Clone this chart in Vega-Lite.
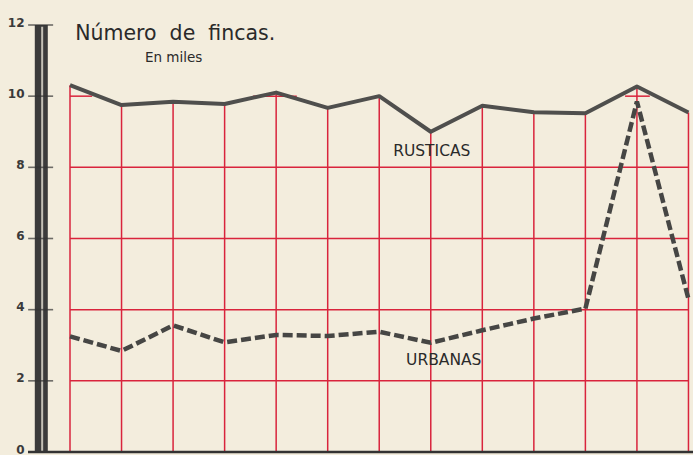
{
  "$schema": "https://vega.github.io/schema/vega-lite/v6.json",
  "width": 665,
  "height": 427,
  "autosize": {"type": "none"},
  "padding": {"left": 28, "top": 25, "right": 0, "bottom": 3},
  "background": "#f3eddd",
  "config": {"view": {"stroke": null}, "font": "DejaVu Sans"},
  "datasets": {
    "series": [
      {"k": 0, "rusticas": 10.31, "urbanas": 3.25},
      {"k": 1, "rusticas": 9.75, "urbanas": 2.84},
      {"k": 2, "rusticas": 9.84, "urbanas": 3.56},
      {"k": 3, "rusticas": 9.78, "urbanas": 3.08},
      {"k": 4, "rusticas": 10.1, "urbanas": 3.29},
      {"k": 5, "rusticas": 9.67, "urbanas": 3.26},
      {"k": 6, "rusticas": 10.0, "urbanas": 3.38},
      {"k": 7, "rusticas": 9.0, "urbanas": 3.07},
      {"k": 8, "rusticas": 9.73, "urbanas": 3.42},
      {"k": 9, "rusticas": 9.55, "urbanas": 3.75},
      {"k": 10, "rusticas": 9.52, "urbanas": 4.03},
      {"k": 11, "rusticas": 10.27, "urbanas": 9.85},
      {"k": 12, "rusticas": 9.54, "urbanas": 4.3}
    ],
    "hgrid": [
      {"gy": 2, "x0": 0, "x1": 12},
      {"gy": 4, "x0": 0, "x1": 12},
      {"gy": 6, "x0": 0, "x1": 12},
      {"gy": 8, "x0": 0, "x1": 12},
      {"gy": 10, "x0": 0, "x1": 0.43},
      {"gy": 10, "x0": 3.55, "x1": 4.4},
      {"gy": 10, "x0": 10.77, "x1": 11.25}
    ],
    "ticks": [
      {"t": 2}, {"t": 4}, {"t": 6}, {"t": 8}, {"t": 10}, {"t": 12}
    ],
    "labels": [
      {"lx": 0.1, "ly": 11.58, "txt": "Número\u00a0\u00a0de\u00a0\u00a0fincas.", "kind": "title"},
      {"lx": 1.455, "ly": 10.96, "txt": "En miles", "kind": "sub"},
      {"lx": 6.27, "ly": 8.32, "txt": "RUSTICAS", "kind": "lab"},
      {"lx": 6.52, "ly": 2.45, "txt": "URBANAS", "kind": "lab"}
    ]
  },
  "layer": [
    {
      "data": {"name": "series"},
      "mark": {"type": "rule", "color": "#d9243c", "strokeWidth": 1.5},
      "encoding": {
        "x": {"field": "k", "type": "quantitative", "scale": {"domain": [-0.815, 12.088], "nice": false, "zero": false}, "axis": null},
        "y": {"field": "rusticas", "type": "quantitative", "scale": {"domain": [0, 12], "nice": false}, "axis": {"values": [0, 2, 4, 6, 8, 10, 12], "domain": false, "ticks": false, "grid": false, "title": null, "labelBaseline": "alphabetic", "labelOffset": 1, "labelPadding": 4, "labelFontSize": 12, "labelFontWeight": "bold", "labelColor": "#3a3a3a", "labelFont": "DejaVu Sans"}},
        "y2": {"datum": 0}
      }
    },
    {
      "data": {"name": "hgrid"},
      "mark": {"type": "rule", "color": "#d9243c", "strokeWidth": 1.5},
      "encoding": {
        "x": {"field": "x0", "type": "quantitative"},
        "x2": {"field": "x1"},
        "y": {"field": "gy", "type": "quantitative"}
      }
    },
    {
      "data": {"values": [{"bx": -0.557, "b0": 0, "b1": 12}]},
      "mark": {"type": "rule", "color": "#3b3b3b", "strokeWidth": 13},
      "encoding": {
        "x": {"field": "bx", "type": "quantitative"},
        "y": {"field": "b0", "type": "quantitative"},
        "y2": {"field": "b1"}
      }
    },
    {
      "data": {"values": [{"bx": -0.54, "b0": 0, "b1": 11.95}]},
      "mark": {"type": "rule", "color": "#c4c0b6", "strokeWidth": 2},
      "encoding": {
        "x": {"field": "bx", "type": "quantitative"},
        "y": {"field": "b0", "type": "quantitative"},
        "y2": {"field": "b1"}
      }
    },
    {
      "data": {"name": "ticks"},
      "mark": {"type": "tick", "color": "#333333", "thickness": 1.6, "size": 25, "orient": "horizontal"},
      "encoding": {
        "x": {"datum": -0.57, "type": "quantitative"},
        "y": {"field": "t", "type": "quantitative"}
      }
    },
    {
      "data": {"values": [{"a0": -0.815, "a1": 12.088, "ay": 0}]},
      "mark": {"type": "rule", "color": "#333333", "strokeWidth": 2.5},
      "encoding": {
        "x": {"field": "a0", "type": "quantitative"},
        "x2": {"field": "a1"},
        "y": {"field": "ay", "type": "quantitative"}
      }
    },
    {
      "data": {"name": "series"},
      "mark": {"type": "line", "color": "#4f4f4d", "strokeWidth": 4, "strokeJoin": "round"},
      "encoding": {
        "x": {"field": "k", "type": "quantitative"},
        "y": {"field": "rusticas", "type": "quantitative"}
      }
    },
    {
      "data": {"name": "series"},
      "mark": {"type": "line", "color": "#464644", "strokeWidth": 4.5, "strokeDash": [10, 4]},
      "encoding": {
        "x": {"field": "k", "type": "quantitative"},
        "y": {"field": "urbanas", "type": "quantitative"}
      }
    },
    {
      "data": {"name": "labels"},
      "transform": [{"filter": "datum.kind == 'title'"}],
      "mark": {"type": "text", "align": "left", "baseline": "alphabetic", "fontSize": 20.5, "color": "#2a2a2a"},
      "encoding": {
        "x": {"field": "lx", "type": "quantitative"},
        "y": {"field": "ly", "type": "quantitative"},
        "text": {"field": "txt"}
      }
    },
    {
      "data": {"name": "labels"},
      "transform": [{"filter": "datum.kind == 'sub'"}],
      "mark": {"type": "text", "align": "left", "baseline": "alphabetic", "fontSize": 13.5, "color": "#2a2a2a"},
      "encoding": {
        "x": {"field": "lx", "type": "quantitative"},
        "y": {"field": "ly", "type": "quantitative"},
        "text": {"field": "txt"}
      }
    },
    {
      "data": {"name": "labels"},
      "transform": [{"filter": "datum.kind == 'lab'"}],
      "mark": {"type": "text", "align": "left", "baseline": "alphabetic", "fontSize": 15.5, "color": "#2a2a2a"},
      "encoding": {
        "x": {"field": "lx", "type": "quantitative"},
        "y": {"field": "ly", "type": "quantitative"},
        "text": {"field": "txt"}
      }
    }
  ]
}
